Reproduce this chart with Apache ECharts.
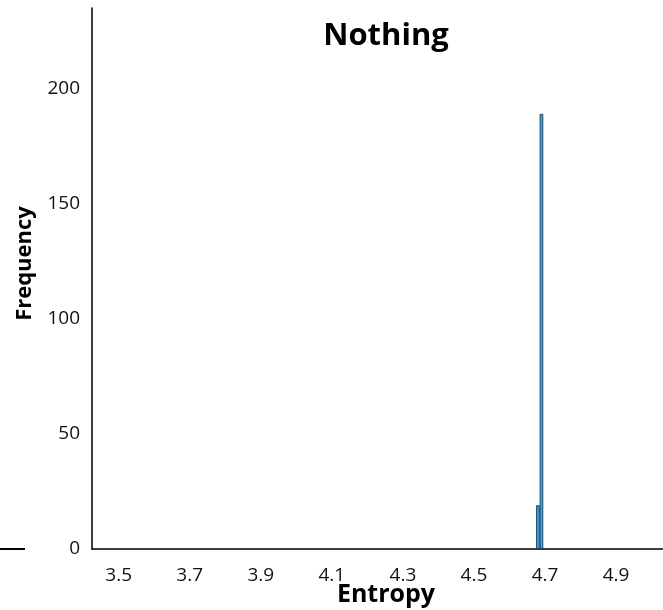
<!DOCTYPE html>
<html>
<head>
<meta charset="utf-8">
<script src="https://cdn.jsdelivr.net/npm/echarts@6/dist/echarts.min.js"></script>
<style>
  html, body { margin: 0; padding: 0; background: #fff; }
  #chart { width: 663px; height: 610px; }
</style>
</head>
<body>
<div id="chart"></div>
<script>
// Histogram bins are 0.01 wide; bin labels are their lower edges.
const binFirst = 343;   // 3.43 in hundredths
const binLast = 512;    // 5.12 in hundredths
const binLabels = [];
for (let k = binFirst; k <= binLast; k++) binLabels.push((k / 100).toFixed(2));

// Axis tick labels shown along the entropy axis
const tickLabels = ['3.50', '3.70', '3.90', '4.10', '4.30', '4.50', '4.70', '4.90'];
const yTicks = [0, 50, 100, 150, 200];

// Non-empty bins and their counts
const filledBins = ['4.68', '4.69'];
const binCounts = [19, 189];

const chart = echarts.init(document.getElementById('chart'));
const font = '"Open Sans", Lato, sans-serif';

chart.setOption({
  backgroundColor: '#ffffff',
  animation: false,
  title: {
    text: 'Nothing',
    left: 381,
    top: 16,
    textAlign: 'center',
    textStyle: { fontFamily: font, fontSize: 31, fontWeight: 'bold', color: '#000' }
  },
  grid: { left: 92, right: -33, top: 8, bottom: 61, outerBoundsMode: 'none', containLabel: false },
  xAxis: {
    type: 'category',
    data: binLabels,
    boundaryGap: true,
    name: 'Entropy',
    nameLocation: 'middle',
    nameGap: 33,
    nameMoveOverlap: false,
    nameTextStyle: { fontFamily: font, fontSize: 25, fontWeight: 'bold', color: '#000', padding: [0, 16, 0, 0] },
    axisLine: { lineStyle: { color: '#000', width: 1.5 } },
    axisTick: { show: false },
    axisLabel: {
      interval: (i, v) => tickLabels.includes(v),
      formatter: v => String(parseFloat(v)),
      margin: 17,
      fontFamily: font, fontSize: 19, color: '#111'
    },
    splitLine: { show: false }
  },
  yAxis: {
    type: 'value',
    min: yTicks[0],
    max: 235,
    interval: 50,
    name: 'Frequency',
    nameLocation: 'middle',
    nameGap: 56,
    nameMoveOverlap: false,
    nameTextStyle: { fontFamily: font, fontSize: 22, fontWeight: 'bold', color: '#000', padding: [0, 0, 0, 30] },
    axisLine: { show: true, lineStyle: { color: '#000', width: 1.5 } },
    axisTick: { show: false },
    axisLabel: {
      showMaxLabel: false,
      formatter: v => (yTicks.includes(v) ? String(v) : ''),
      margin: 12,
      fontFamily: font, fontSize: 19, color: '#111'
    },
    splitLine: { show: false }
  },
  series: [{
    type: 'bar',
    data: filledBins.map((b, i) => [b, binCounts[i]]),
    barWidth: '100%',
    itemStyle: { color: '#2EA8F0', borderColor: '#1b2633', borderWidth: 0.8 }
  }],
  graphic: [{
    // fragment of the neighbouring panel's baseline at the left edge
    type: 'line',
    shape: { x1: 0, y1: 549, x2: 25, y2: 549 },
    style: { stroke: '#000', lineWidth: 2 }
  }]
});
</script>
</body>
</html>
